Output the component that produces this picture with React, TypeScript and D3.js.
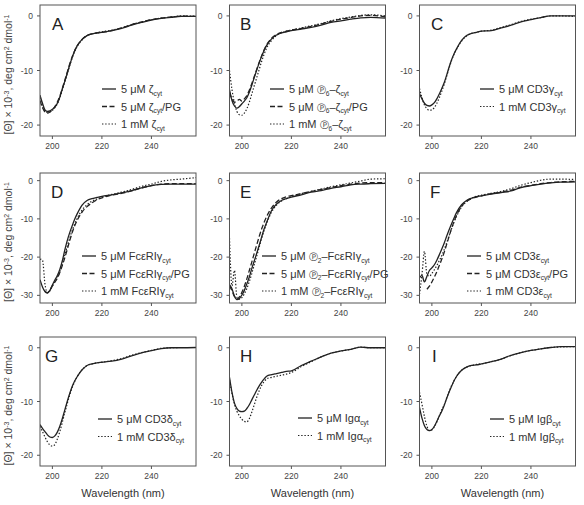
import React from "react";
import * as d3 from "d3";

const wavelengths = [195,196,197,198,199,200,201,202,203,204,205,206,207,208,209,210,212,214,216,218,220,224,228,232,236,240,244,248,252,258];

const A_solid = [-14.5,-16.0,-17.2,-17.5,-17.4,-17.1,-16.7,-16.0,-14.9,-13.4,-12.0,-10.5,-9.0,-7.6,-6.4,-5.5,-4.3,-3.6,-3.3,-3.1,-3.0,-2.7,-2.3,-1.7,-1.2,-0.75,-0.45,-0.25,-0.1,-0.1];
const A_dashed = [-15.5,-16.8,-17.6,-17.8,-17.6,-17.2,-16.6,-15.8,-14.7,-13.3,-11.8,-10.3,-8.8,-7.5,-6.4,-5.5,-4.3,-3.6,-3.3,-3.1,-3.0,-2.7,-2.2,-1.6,-1.1,-0.7,-0.4,-0.2,-0.05,-0.1];
const A_dotted = [-15.0,-16.5,-17.4,-17.7,-17.6,-17.3,-16.8,-16.1,-15.0,-13.6,-12.1,-10.6,-9.1,-7.7,-6.5,-5.6,-4.4,-3.6,-3.3,-3.1,-2.9,-2.6,-2.2,-1.6,-1.1,-0.7,-0.4,-0.2,0.0,-0.05];

const B_solid = [-13.5,-15.5,-16.5,-16.9,-16.6,-16.1,-15.6,-15.0,-14.0,-12.7,-11.3,-9.9,-8.6,-7.4,-6.3,-5.4,-4.2,-3.5,-3.1,-2.9,-2.7,-2.4,-2.1,-1.7,-1.2,-0.9,-0.6,-0.35,-0.25,-0.4];
const B_dashed = [-14.0,-15.2,-15.8,-15.6,-15.3,-15.6,-15.2,-14.6,-13.6,-12.4,-11.1,-9.8,-8.5,-7.3,-6.2,-5.3,-4.1,-3.4,-3.0,-2.8,-2.6,-2.3,-1.9,-1.5,-1.0,-0.6,-0.3,0.0,0.1,-0.2];
const B_dotted = [-10.0,-13.5,-16.0,-17.5,-18.1,-18.2,-17.8,-17.0,-15.8,-14.3,-12.8,-11.3,-9.8,-8.3,-7.0,-5.9,-4.5,-3.6,-3.1,-2.8,-2.6,-2.2,-1.8,-1.4,-0.9,-0.5,-0.2,0.1,0.2,0.0];

const C_solid = [-14.2,-15.2,-16.0,-16.4,-16.5,-16.3,-15.9,-15.2,-14.3,-13.3,-12.2,-10.8,-9.3,-8.0,-6.9,-6.0,-4.5,-3.6,-3.2,-3.0,-2.8,-2.7,-2.2,-1.7,-1.1,-0.7,-0.3,0.0,0.0,0.0];
const C_dotted = [-13.3,-15.0,-16.3,-17.0,-17.3,-17.2,-16.8,-16.0,-15.0,-13.8,-12.5,-11.0,-9.5,-8.1,-7.0,-6.1,-4.6,-3.7,-3.2,-3.0,-2.8,-2.6,-2.1,-1.6,-1.0,-0.6,-0.3,0.0,0.0,-0.1];

const D_solid = [-25.9,-27.8,-29.0,-29.4,-28.7,-27.3,-26.0,-24.8,-23.2,-21.0,-18.2,-15.7,-13.6,-11.8,-10.1,-8.7,-6.4,-5.2,-4.7,-4.4,-4.1,-3.7,-3.2,-2.6,-1.9,-1.3,-1.0,-0.9,-0.9,-0.9];
const D_dashed = [null,null,-29.0,-29.3,-28.6,-27.5,-26.5,-25.5,-24.0,-22.2,-20.2,-18.0,-15.7,-13.6,-11.8,-10.4,-8.2,-6.8,-5.8,-5.0,-4.5,-3.8,-3.3,-2.7,-1.9,-1.3,-0.9,-0.8,-0.8,-0.8];
const D_dotted = [-20.5,-20.8,-27.0,-29.3,-28.8,-27.6,-26.5,-25.3,-23.8,-21.8,-19.5,-17.2,-15.0,-13.0,-11.3,-9.9,-7.7,-6.3,-5.4,-4.8,-4.3,-3.6,-3.0,-2.3,-1.5,-0.9,-0.2,0.2,0.4,0.8];

const E_solid = [-27.2,-28.3,-30.2,-31.1,-30.8,-29.9,-28.7,-27.0,-25.2,-23.0,-21.0,-19.0,-16.9,-14.7,-12.6,-10.9,-7.8,-6.1,-5.2,-4.7,-4.3,-3.7,-3.0,-2.6,-2.0,-1.6,-1.1,-0.9,-0.8,-0.7];
const E_dashed = [-27.5,-28.8,-30.3,-31.0,-30.4,-29.2,-27.6,-25.7,-23.5,-21.3,-19.0,-16.8,-14.6,-12.6,-10.9,-9.4,-7.1,-5.6,-4.7,-4.2,-3.9,-3.4,-2.8,-2.3,-1.8,-1.3,-0.9,-0.6,-0.5,-0.5];
const E_dotted = [-15.0,-27.5,-23.5,-30.5,-31.0,-30.6,-29.6,-28.2,-26.4,-24.3,-22.0,-19.7,-17.4,-15.1,-13.0,-11.2,-8.2,-6.4,-5.3,-4.7,-4.2,-3.4,-2.8,-2.2,-1.6,-1.1,-0.6,-0.1,0.4,0.5];

const F_solid = [-25.4,-24.8,-26.5,-25.0,-23.5,-22.8,-22.0,-20.8,-19.4,-17.9,-16.3,-14.5,-12.8,-11.2,-9.7,-8.3,-6.3,-5.2,-4.6,-4.2,-4.0,-3.5,-3.1,-2.7,-1.8,-1.3,-0.9,-0.6,-0.4,-0.3];
const F_dashed = [null,null,null,-28.4,-27.6,-26.5,-25.2,-23.8,-22.2,-20.5,-18.7,-16.6,-14.5,-12.4,-10.6,-9.0,-6.7,-5.4,-4.7,-4.3,-4.0,-3.4,-3.0,-2.5,-1.7,-1.2,-0.8,-0.5,-0.3,-0.2];
const F_dotted = [-29.7,-24.5,-18.5,-24.5,-25.0,-24.3,-23.3,-22.2,-20.9,-19.6,-18.0,-16.2,-14.3,-12.5,-10.8,-9.3,-6.9,-5.5,-4.6,-4.1,-3.8,-3.3,-2.8,-2.1,-1.2,-0.5,0.1,0.4,0.4,0.3];

const G_solid = [-14.3,-15.0,-15.6,-16.2,-16.6,-16.7,-16.4,-15.7,-14.6,-13.2,-11.6,-10.0,-8.5,-7.2,-6.2,-5.4,-4.1,-3.3,-3.0,-2.8,-2.7,-2.5,-2.1,-1.5,-0.95,-0.55,-0.15,0.0,0.0,0.05];
const G_dotted = [-14.6,-15.6,-16.6,-17.5,-18.1,-18.3,-18.0,-17.0,-15.6,-13.9,-12.1,-10.4,-8.8,-7.4,-6.3,-5.4,-4.1,-3.3,-3.0,-2.8,-2.7,-2.4,-2.0,-1.4,-0.9,-0.5,-0.1,0.0,0.05,0.05];

const H_solid = [-5.5,-8.3,-10.3,-11.3,-11.8,-11.9,-11.8,-11.3,-10.6,-9.7,-8.8,-7.9,-7.1,-6.4,-5.8,-5.3,-5.0,-4.8,-4.6,-4.4,-4.3,-3.3,-2.5,-1.7,-1.0,-0.6,-0.3,0.1,0.0,0.0];
const H_dotted = [-6.0,-8.5,-10.5,-11.8,-12.7,-13.3,-13.7,-13.8,-13.2,-12.0,-10.6,-9.2,-8.0,-7.0,-6.3,-5.8,-5.5,-5.3,-5.1,-4.9,-4.6,-3.5,-2.6,-1.7,-1.0,-0.6,-0.3,0.1,0.0,0.0];

const I_solid = [-11.1,-13.1,-14.5,-15.2,-15.4,-15.2,-14.6,-13.7,-12.7,-11.8,-10.7,-9.4,-8.2,-7.1,-6.1,-5.3,-4.2,-3.6,-3.3,-3.2,-3.0,-2.6,-2.1,-1.4,-0.9,-0.5,-0.2,0.05,0.2,0.2];
const I_dotted = [-8.3,-10.5,-12.8,-14.6,-15.4,-15.3,-14.7,-13.8,-12.7,-11.5,-10.6,-9.3,-8.1,-7.0,-6.1,-5.3,-4.2,-3.6,-3.3,-3.1,-3.0,-2.6,-2.1,-1.4,-0.9,-0.5,-0.2,0.05,0.15,0.2];

const xTicks = [200, 220, 240];
const yTicksShort = [0, -10, -20];
const yTicksTall = [0, -10, -20, -30];
const panelLetters = ["A", "B", "C", "D", "E", "F", "G", "H", "I"];

const A_labels = ["5 μM ζ_{cyt}", "5 μM ζ_{cyt}/PG", "1 mM ζ_{cyt}"];
const B_labels = ["5 μM Ⓟ_{6}–ζ_{cyt}", "5 μM Ⓟ_{6}–ζ_{cyt}/PG", "1 mM Ⓟ_{6}–ζ_{cyt}"];
const C_labels = ["5 μM CD3γ_{cyt}", "1 mM CD3γ_{cyt}"];
const D_labels = ["5 μM FcεRIγ_{cyt}", "5 μM FcεRIγ_{cyt}/PG", "1 mM FcεRIγ_{cyt}"];
const E_labels = ["5 μM Ⓟ_{2}–FcεRIγ_{cyt}", "5 μM Ⓟ_{2}–FcεRIγ_{cyt}/PG", "1 mM Ⓟ_{2}–FcεRIγ_{cyt}"];
const F_labels = ["5 μM CD3ε_{cyt}", "5 μM CD3ε_{cyt}/PG", "1 mM CD3ε_{cyt}"];
const G_labels = ["5 μM CD3δ_{cyt}", "1 mM CD3δ_{cyt}"];
const H_labels = ["5 μM Igα_{cyt}", "1 mM Igα_{cyt}"];
const I_labels = ["5 μM Igβ_{cyt}", "1 mM Igβ_{cyt}"];

type Style = "solid" | "dashed" | "dotted";
const DASH: Record<Style, string | undefined> = { solid: undefined, dashed: "5,2.5", dotted: "1.4,1.8" };
const WIDTH: Record<Style, number> = { solid: 1.3, dashed: 1.3, dotted: 1.2 };

const panels = [
  { series: [A_solid, A_dashed, A_dotted], styles: ["solid", "dashed", "dotted"], labels: A_labels, row: 0, col: 0, leg: [102, 89], letterX: 52 },
  { series: [B_solid, B_dashed, B_dotted], styles: ["solid", "dashed", "dotted"], labels: B_labels, row: 0, col: 1, leg: [270, 89], letterX: 240 },
  { series: [C_solid, C_dotted], styles: ["solid", "dotted"], labels: C_labels, row: 0, col: 2, leg: [480, 89], letterX: 431 },
  { series: [D_solid, D_dashed, D_dotted], styles: ["solid", "dashed", "dotted"], labels: D_labels, row: 1, col: 0, leg: [82, 256], letterX: 51 },
  { series: [E_solid, E_dashed, E_dotted], styles: ["solid", "dashed", "dotted"], labels: E_labels, row: 1, col: 1, leg: [262, 256], letterX: 240 },
  { series: [F_solid, F_dashed, F_dotted], styles: ["solid", "dashed", "dotted"], labels: F_labels, row: 1, col: 2, leg: [467, 256], letterX: 430 },
  { series: [G_solid, G_dotted], styles: ["solid", "dotted"], labels: G_labels, row: 2, col: 0, leg: [98, 419], letterX: 45 },
  { series: [H_solid, H_dotted], styles: ["solid", "dotted"], labels: H_labels, row: 2, col: 1, leg: [298, 418], letterX: 240 },
  { series: [I_solid, I_dotted], styles: ["solid", "dotted"], labels: I_labels, row: 2, col: 2, leg: [490, 419], letterX: 432 },
];

const colLeft = [40, 229.5, 419.5];
const plotW = 156;
const rowTop = [5, 173, 337];
const rowH = [131, 130, 129];
const rowYDomain: [number, number][] = [[-22, 2], [-32, 2], [-22, 2]];

const FONT = "'Liberation Sans', Arial, 'DejaVu Sans', sans-serif";
const AXIS = "#555";
const INK = "#222";

function RichText({ s, x, y, size, fill }: { s: string; x: number; y: number; size: number; fill: string }) {
  const parts: { t: string; sub: boolean; small?: boolean }[] = [];
  const re = /_\{([^}]*)\}|Ⓟ/g;
  let last = 0;
  let m: RegExpExecArray | null;
  while ((m = re.exec(s))) {
    if (m.index > last) parts.push({ t: s.slice(last, m.index), sub: false });
    if (m[0] === "Ⓟ") parts.push({ t: "Ⓟ", sub: false, small: true });
    else parts.push({ t: m[1], sub: true });
    last = m.index + m[0].length;
  }
  if (last < s.length) parts.push({ t: s.slice(last), sub: false });
  let shift = 0;
  return (
    <text x={x} y={y} fontSize={size} fill={fill} fontFamily={FONT} style={{ whiteSpace: "pre" }}>
      {parts.map((p, i) => {
        const target = p.sub ? 2.5 : 0;
        const dy = target - shift;
        shift = target;
        return (
          <tspan key={i} dy={dy} fontSize={p.sub ? size * 0.6 : p.small ? size * 0.8 : size}>
            {p.t}
          </tspan>
        );
      })}
    </text>
  );
}

function Panel({ p }: { p: (typeof panels)[number] }) {
  const left = colLeft[p.col];
  const top = rowTop[p.row];
  const h = rowH[p.row];
  const x = d3.scaleLinear().domain([195, 258]).range([left, left + plotW]);
  const y = d3.scaleLinear().domain(rowYDomain[p.row]).range([top + h, top]);
  const yTicks = p.row === 1 ? yTicksTall : yTicksShort;
  const line = d3
    .line<number | null>()
    .defined((d) => d !== null)
    .x((_, i) => x(wavelengths[i]))
    .y((d) => y(d as number))
    .curve(d3.curveMonotoneX);
  const clipId = `clip-${p.row}-${p.col}`;
  return (
    <g>
      <defs>
        <clipPath id={clipId}>
          <rect x={left} y={top} width={plotW} height={h} />
        </clipPath>
      </defs>
      <g clipPath={`url(#${clipId})`}>
        {p.series.map((s, i) => (
          <path
            key={i}
            d={line(s as (number | null)[]) || ""}
            fill="none"
            stroke={INK}
            strokeWidth={WIDTH[p.styles[i] as Style]}
            strokeDasharray={DASH[p.styles[i] as Style]}
            strokeLinejoin="round"
          />
        ))}
      </g>
      <rect x={left} y={top} width={plotW} height={h} fill="none" stroke={AXIS} strokeWidth={1} />
      {xTicks.map((t) => (
        <g key={t}>
          <line x1={x(t)} x2={x(t)} y1={top + h} y2={top + h + 3} stroke={AXIS} />
          <text x={x(t)} y={top + h + 13} fontSize={8.5} fill="#444" fontFamily={FONT} textAnchor="middle">
            {t}
          </text>
        </g>
      ))}
      {yTicks.map((t) => (
        <g key={t}>
          <line x1={left - 3} x2={left} y1={y(t)} y2={y(t)} stroke={AXIS} />
          <text x={left - 7} y={y(t) + 3} fontSize={8.5} fill="#444" fontFamily={FONT} textAnchor="end">
            {t}
          </text>
        </g>
      ))}
      <text x={p.letterX} y={top + 25} fontSize={17} fill={INK} fontFamily={FONT}>
        {panelLetters[p.row * 3 + p.col]}
      </text>
      {p.labels.map((lab, i) => {
        const ly = p.leg[1] + i * 17.5;
        const st = p.styles[i] as Style;
        return (
          <g key={i}>
            <line x1={p.leg[0]} x2={p.leg[0] + 14} y1={ly} y2={ly} stroke={INK} strokeWidth={WIDTH[st]} strokeDasharray={DASH[st]} />
            <RichText s={lab} x={p.leg[0] + 19} y={ly + 4} size={11} fill="#333" />
          </g>
        );
      })}
      {p.col === 0 && (
        <text
          transform={`translate(12,${top + h / 2 + 4}) rotate(-90)`}
          fontSize={10.5}
          fill="#444"
          fontFamily={FONT}
          textAnchor="middle"
        >
          <tspan>[Θ] × 10</tspan>
          <tspan dy={-3.5} fontSize={7}>-3</tspan>
          <tspan dy={3.5}>, deg cm</tspan>
          <tspan dy={-3.5} fontSize={7}>2</tspan>
          <tspan dy={3.5}> dmol</tspan>
          <tspan dy={-3.5} fontSize={7}>-1</tspan>
        </text>
      )}
      {p.row === 2 && (
        <text x={left + plotW / 2 + 5} y={497} fontSize={11} fill="#333" fontFamily={FONT} textAnchor="middle">
          Wavelength (nm)
        </text>
      )}
    </g>
  );
}

export default function App() {
  return (
    <>
      <style>{`body{margin:0}`}</style>
      <svg width={584} height={505} style={{ display: "block", background: "#fff" }}>
        {panels.map((p, i) => (
          <Panel key={i} p={p} />
        ))}
      </svg>
    </>
  );
}
